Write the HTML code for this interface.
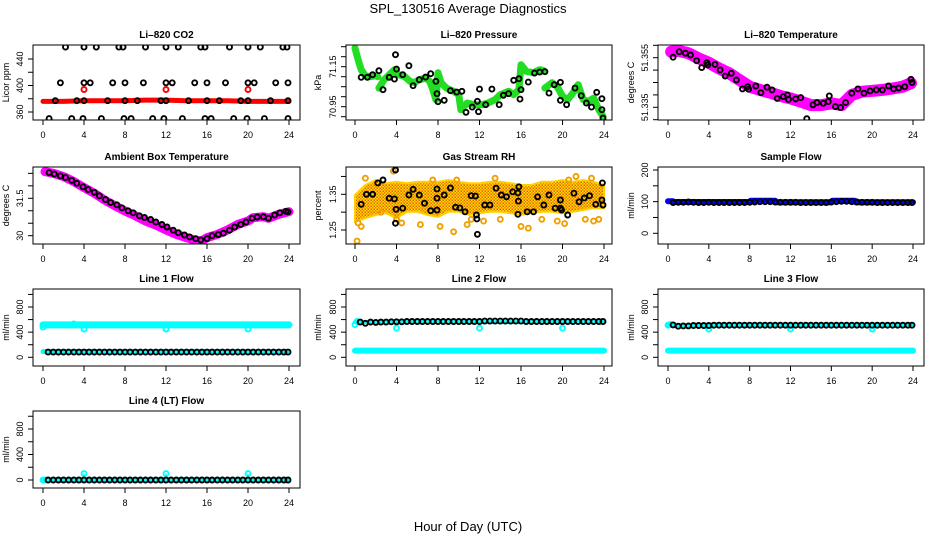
<!DOCTYPE html>
<html><head><meta charset="utf-8"><style>
html,body{margin:0;padding:0;background:#fff}
svg{display:block}
text{font-family:"Liberation Sans",Arial,sans-serif}
</style></head><body>
<svg id="chart" width="936" height="540" viewBox="0 0 936 540" xmlns="http://www.w3.org/2000/svg">
<defs>
<pattern id="rhpat" width="3" height="3" patternUnits="userSpaceOnUse">
<rect width="3" height="3" fill="#ffe000"/><rect x="0" y="0" width="1.5" height="1.5" fill="#f08000"/><rect x="1.5" y="1.5" width="1.5" height="1.5" fill="#e06000"/>
</pattern>
</defs>
<text x="468" y="13" text-anchor="middle" font-size="13">SPL_130516  Average Diagnostics</text>
<text x="468" y="531" text-anchor="middle" font-size="13">Hour of Day (UTC)</text>
</svg>
<script>
// ---- data ----
const xTicks = [0,4,8,12,16,20,24];
const co2Times458 = [2.2,4,5.2,7.4,7.8,10,12,13.2,15.4,15.8,18.2,20,21.2,23.4,23.8];
const co2Times404 = [1.7,4,4.6,6.8,8,9.8,12,12.6,14.8,16,17.8,20,20.6,22.7,23.9];
const co2Times377 = [1.2,3.3,4,6.3,8,9.2,11.5,12,14.2,16,17.2,19.3,20,22.2,23.9];
const co2Times350 = [0.6,2.8,3.9,5.7,7.9,8.6,10.7,11.8,13.6,15.8,16.4,18.6,19.9,21.6,23.9];
const co2Levels = [458,404,377,350];
const co2RedTimes = [0,2,4,6,8,10,12,14,16,18,20,22,24];
const co2RedVals = [376,376,377,377,377,378,378,377,377,377,376,376,376];
const co2RedCircT = [4,12,20];
const co2RedCircV = [394,394,394];

const presBandT = [0,0.3,0.6,1,1.5,2,2.2,null,2.3,2.8,3.3,3.8,4.2,4.8,5.3,5.7,6.2,6.8,7.2,7.5,7.8,8,8.3,8.8,9.5,10,10.2,10.8,11.5,12.2,12.8,13.5,14,14.8,15.3,15.8,16,16.5,17.2,17.8,18.2,null,18.3,19,19.5,20,20.5,21,21.5,22,22.5,23,23.5,23.9];
const presBandV = [71.243,71.185,71.135,71.105,71.10,71.105,71.10,null,71.043,71.085,71.11,71.135,71.11,71.10,71.077,71.07,71.085,71.093,71.077,71.035,70.985,71.12,71.07,71.043,71.027,71.01,70.935,70.968,70.96,70.96,70.968,70.985,71.01,71.027,71.01,71.035,71.16,71.127,71.12,71.135,71.13,null,71.043,71.07,71.05,71.002,70.985,71.018,71.06,70.985,70.977,70.993,70.935,70.902];
const presT = [0.6,1.2,1.7,2.3,2.7,3.3,3.8,3.9,4.0,4.6,5.2,5.6,6.2,6.8,7.3,7.8,7.9,8.0,8.6,9.2,9.8,10.3,10.7,11.3,11.8,11.9,12.0,12.6,13.2,13.9,14.3,14.8,15.3,15.8,15.9,16.0,16.7,17.3,17.8,18.3,18.7,19.2,19.8,19.8,20.4,21.2,21.8,22.3,22.8,23.3,23.8,23.8,23.9];
const presV = [71.097,71.097,71.11,71.13,71.035,71.097,71.088,71.21,71.138,71.11,71.155,71.055,71.085,71.098,71.115,71.077,71.015,70.975,70.982,71.03,71.023,71.027,70.922,70.948,70.977,70.925,71.038,70.96,71.038,70.96,71.007,71.015,71.082,71.09,70.988,71.035,71.073,71.118,71.123,71.125,71.018,71.06,71.072,70.982,70.96,71.043,71.005,70.968,70.948,71.022,70.99,70.935,70.893];

const ltBandT = [0.3,1,2,3,4,5,6,7,8,9,10,11,12,13,14,15,16,17,18,19,20,21,22,23,23.8];
const ltBandV = [51.3574,51.3578,51.3568,51.3547,51.3530,51.3507,51.3487,51.3460,51.3433,51.3420,51.3409,51.3396,51.3386,51.3373,51.3359,51.3359,51.3366,51.3359,51.3400,51.3413,51.3416,51.3420,51.3426,51.3433,51.3447];
const ltT = [0.5,1.1,1.7,2.2,2.8,3.3,3.8,3.9,4.6,5.1,5.6,6.2,6.7,7.3,7.8,7.9,8.6,9.1,9.7,10.2,10.7,11.3,11.7,11.8,12.5,13.0,13.6,14.2,14.6,15.2,15.7,15.8,16.4,16.9,17.4,18.0,18.6,19.2,19.8,20.4,21.0,21.6,22.1,22.6,23.2,23.8,23.9];
const ltV = [51.3552,51.3574,51.3568,51.3561,51.3538,51.3510,51.3530,51.3521,51.3523,51.3501,51.3476,51.3487,51.3460,51.3424,51.3433,51.3423,51.3436,51.3409,51.3431,51.3420,51.3386,51.3393,51.3400,51.3382,51.3384,51.3389,51.3304,51.3360,51.3369,51.3366,51.3373,51.3396,51.3353,51.3349,51.3369,51.3407,51.3424,51.3407,51.3416,51.3420,51.3420,51.3436,51.3424,51.3428,51.3433,51.3463,51.3450];

const ambBandT = [0.2,1,2,3,4,5,6,7,8,9,10,11,12,13,14,15,15.5,16,17,18,19,20,20.5,21.5,22,23,24];
const ambBandV = [32.571,32.504,32.370,32.169,31.928,31.700,31.433,31.205,30.991,30.803,30.589,30.428,30.228,30.053,29.920,29.799,29.799,29.920,30.053,30.228,30.455,30.589,30.723,30.763,30.696,30.857,30.964];
const ambT = [0.6,1.1,1.7,2.2,2.8,3.3,3.9,4.4,5,5.5,6.1,6.6,7.2,7.7,8.3,8.8,9.4,9.9,10.5,11,11.6,12.1,12.7,13.2,13.8,14.3,14.9,15.4,16,16.5,17.1,17.6,18.2,18.7,19.3,19.8,20.4,20.9,21.5,22,22.6,23.1,23.7,23.9];
const ambV = [32.53,32.47,32.40,32.33,32.22,32.10,31.96,31.85,31.74,31.60,31.45,31.33,31.24,31.12,31.00,30.92,30.80,30.73,30.65,30.55,30.45,30.35,30.22,30.12,30.03,29.95,29.88,29.83,29.88,30.00,30.05,30.10,30.22,30.35,30.45,30.55,30.70,30.75,30.76,30.70,30.83,30.92,30.98,30.96];

const rhBandT = [0,1,2,3,4,5,6,7,8,9,10,11,12,13,14,15,16,17,18,19,20,21,22,23,24];
const rhBandHi = [1.348,1.376,1.390,1.381,1.385,1.381,1.385,1.385,1.385,1.390,1.385,1.381,1.381,1.385,1.385,1.381,1.376,1.376,1.385,1.385,1.390,1.385,1.390,1.385,1.376];
const rhBandLo = [1.273,1.283,1.292,1.297,1.283,1.301,1.301,1.292,1.287,1.301,1.301,1.292,1.297,1.301,1.301,1.297,1.292,1.297,1.301,1.301,1.297,1.301,1.306,1.311,1.311];
const rhOutT = [0.2,0.3,0.6,1.0,2.5,3.7,4.0,4.5,6.3,7.5,8.2,9.5,9.8,10.8,11.2,12.4,13.5,14.0,16.0,16.7,18.0,19.5,20.2,20.6,21.3,22.2,22.8,23.0,23.5];
const rhOutV = [1.219,1.27,1.26,1.395,1.30,1.415,1.28,1.27,1.265,1.39,1.26,1.245,1.39,1.265,1.28,1.275,1.395,1.28,1.26,1.255,1.28,1.275,1.268,1.39,1.40,1.28,1.395,1.275,1.28];
const rhT = [0.6,1.1,1.7,2.2,2.7,3.3,3.8,3.9,3.95,3.9,4.6,5.2,5.6,6.2,6.7,7.3,7.9,7.9,7.9,8.6,9.2,9.7,10.1,10.6,11.2,11.6,11.7,11.75,11.8,12.5,13.0,13.6,14.1,14.6,15.2,15.7,15.8,15.75,15.7,16.6,17.2,17.6,18.2,18.7,19.3,19.8,19.8,19.9,20.5,21.1,21.6,22.1,22.6,23.2,23.8,23.9,23.85];
const rhV = [1.322,1.350,1.350,1.382,1.390,1.339,1.337,1.418,1.308,1.269,1.311,1.348,1.364,1.348,1.325,1.304,1.365,1.339,1.306,1.348,1.368,1.314,1.312,1.301,1.346,1.345,1.292,1.281,1.238,1.320,1.320,1.367,1.348,1.343,1.357,1.354,1.371,1.331,1.294,1.301,1.301,1.343,1.320,1.348,1.311,1.334,1.311,1.306,1.292,1.353,1.329,1.340,1.346,1.322,1.334,1.320,1.382];

const hrs = [0.5,1,1.5,2,2.5,3,3.5,4,4.5,5,5.5,6,6.5,7,7.5,8,8.5,9,9.5,10,10.5,11,11.5,12,12.5,13,13.5,14,14.5,15,15.5,16,16.5,17,17.5,18,18.5,19,19.5,20,20.5,21,21.5,22,22.5,23,23.5,23.9];
const sfBlack = [97,98,98,99,98,97,97,98,97,97,97,97,97,97,97,98,99,100,100,100,99,98,98,98,98,97,97,97,97,97,97,99,100,101,101,100,99,98,98,98,97,97,97,97,97,97,97,97];
const sfBandT = [0,0.5,0.6,8,8.1,10.5,10.6,16,16.1,18.3,18.4,24];
const sfBandV = [101,101,99,99,103,103,98,98,103,103,98,98];

const flowBandT = [0,24];
const l1Hi = [515,515];
const l1Lo = [92,92];
const l1Black = [82,82,82,82,82,82,82,82,82,82,82,82,82,82,82,82,82,82,82,82,82,82,82,82,82,82,82,82,82,82,82,82,82,82,82,82,82,82,82,82,82,82,82,82,82,82,82,82];
const l1CircT = [0,3,4,12,20];
const l1CircV = [480,530,450,450,450];
const l2Hi = [560,560];
const l2Lo = [106,106];
const l2Black = [560,540,560,555,560,560,565,565,565,570,570,570,570,570,570,570,570,570,570,570,570,570,570,570,575,575,575,575,575,575,575,575,570,570,570,570,570,570,570,570,570,570,570,570,570,570,570,570];
const l2CircT = [0,0.2,4,12,20];
const l2CircV = [520,570,465,465,465];
const l3Hi = [505,505];
const l3Lo = [106,106];
const l3Black = [515,495,500,500,505,505,505,505,510,510,510,510,510,510,510,510,510,510,510,510,510,510,510,510,510,510,510,510,510,510,510,510,510,510,510,510,510,510,510,510,510,510,510,510,510,510,510,510];
const l3CircT = [0,0.2,4,12,20];
const l3CircV = [510,520,450,450,450];
const l4Black = [0,0,0,0,0,0,0,0,0,0,0,0,0,0,0,0,0,0,0,0,0,0,0,0,0,0,0,0,0,0,0,0,0,0,0,0,0,0,0,0,0,0,0,0,0,0,0,0];
const l4CircT = [0,0.2,4,12,20];
const l4CircV = [0,0,100,100,100];

// ---- drawing ----
const NS = 'http://www.w3.org/2000/svg';
const svg = document.getElementById('chart');
function mk(tag, attrs, parent){
  const e = document.createElementNS(NS, tag);
  for (const k in attrs) e.setAttribute(k, attrs[k]);
  (parent||svg).appendChild(e);
  return e;
}
const cols = [
  {bx0:33,bx1:300,t0:43,t24:289,ylx:9},
  {bx0:346,bx1:612,t0:355,t24:604,ylx:321},
  {bx0:658,bx1:924,t0:668,t24:913,ylx:634}
];
const rows = [{y0:45,y1:120},{y0:167,y1:244},{y0:289,y1:366},{y0:411,y1:488}];

function panel(name, title, ylab, c, r, v1, p1, v2, p2, ticks, labels){
  const C = cols[c], R = rows[r];
  const g = mk('g', {});
  
  
  const xs = t => C.t0 + (C.t24 - C.t0) * t / 24;
  const ys = v => p1 + (v - v1) * (p2 - p1) / (v2 - v1);
  const clip = mk('clipPath', {id: 'clip-' + name}, g);
  mk('rect', {x:C.bx0, y:R.y0, width:C.bx1-C.bx0, height:R.y1-R.y0}, clip);
  const plot = mk('g', {'clip-path': 'url(#clip-' + name + ')'}, g);
  
  
  const box = mk('rect', {x:C.bx0, y:R.y0, width:C.bx1-C.bx0, height:R.y1-R.y0, fill:'none', stroke:'#000', 'stroke-width':1}, g);
  
  
  const tt = mk('text', {x:(C.bx0+C.bx1)/2, y:R.y0-7, 'text-anchor':'middle', 'font-size':10, 'font-weight':'bold'}, g);
  tt.textContent = title;
  
  
  const cy = (R.y0+R.y1)/2;
  const yl = mk('text', {x:C.ylx, y:cy, 'text-anchor':'middle', 'font-size':9, transform:'rotate(-90 '+C.ylx+' '+cy+')'}, g);
  yl.textContent = ylab;
  
  
  const xa = mk('g', {stroke:'#000', 'stroke-width':1}, g);
  
  
  mk('line', {x1:xs(0), x2:xs(24), y1:R.y1, y2:R.y1}, xa);
  xTicks.forEach(t => {
    mk('line', {x1:xs(t), x2:xs(t), y1:R.y1, y2:R.y1+5}, xa);
    const tl = mk('text', {x:xs(t), y:R.y1+18, 'text-anchor':'middle', 'font-size':9, stroke:'none'}, g);
    tl.textContent = t;
    
    
  });
  const ya = mk('g', {stroke:'#000', 'stroke-width':1}, g);
  
  
  mk('line', {x1:C.bx0, x2:C.bx0, y1:ys(ticks[0]), y2:ys(ticks[ticks.length-1])}, ya);
  ticks.forEach(v => mk('line', {x1:C.bx0-5, x2:C.bx0, y1:ys(v), y2:ys(v)}, ya));
  labels.forEach(v => {
    const lx = C.bx0 - 10, ly = ys(v);
    const tl = mk('text', {x:lx, y:ly, 'text-anchor':'middle', 'font-size':9, transform:'rotate(-90 '+lx+' '+ly+')'}, g);
    tl.textContent = v;
    
    
  });
  return {plot, xs, ys};
}
function band(P, T, V, color, w, name){
  let d = '', pen = false;
  T.forEach((t, i) => {
    if (t === null || V[i] === null) { pen = false; return; }
    d += (pen ? 'L' : 'M') + P.xs(t).toFixed(1) + ' ' + P.ys(V[i]).toFixed(1);
    pen = true;
  });
  const p = mk('path', {d, fill:'none', stroke:color, 'stroke-width':w, 'stroke-linejoin':'round', 'stroke-linecap':'round'}, P.plot);
  
  
}
function area(P, T, Hi, Lo, fill, name){
  let d = '';
  T.forEach((t, i) => { d += (i ? 'L' : 'M') + P.xs(t).toFixed(1) + ' ' + P.ys(Hi[i]).toFixed(1); });
  for (let i = T.length-1; i >= 0; i--) d += 'L' + P.xs(T[i]).toFixed(1) + ' ' + P.ys(Lo[i]).toFixed(1);
  const p = mk('path', {d: d + 'Z', fill, stroke:'#ffd000', 'stroke-width':2}, P.plot);
  
  
}
function pts(P, T, V, color, name, r){
  T.forEach((t, i) => {
    const c = mk('circle', {cx:P.xs(t).toFixed(1), cy:P.ys(V[i]).toFixed(1), r:r||2.5, fill:'none', stroke:color, 'stroke-width':1.9}, P.plot);
    
    
  });
}

let P = panel('co2-panel','Li\u2013820 CO2','Licor ppm',0,0,360,112,440,59,[360,380,400,420,440],[360,400,440]);
band(P, co2RedTimes, co2RedVals, '#f00', 5, 'co2-red-series');
pts(P, co2RedCircT, co2RedCircV, '#f00', 'co2-red-point');
[co2Times458,co2Times404,co2Times377,co2Times350].forEach((arr, k) => pts(P, arr, arr.map(() => co2Levels[k]), '#000', 'co2-black-point'));

P = panel('pressure-panel','Li\u2013820 Pressure','kPa',1,0,70.95,106.7,71.15,66.7,[70.9,70.95,71,71.05,71.1,71.15,71.2,71.25],[70.95,71.15]);
band(P, presBandT, presBandV, '#22dd22', 7, 'pressure-green-series');
pts(P, presT, presV, '#000', 'pressure-black-point');

P = panel('li-temp-panel','Li\u2013820 Temperature','degrees C',2,0,51.335,107.3,51.355,57.7,[51.33,51.335,51.34,51.345,51.35,51.355,51.36],[51.335,51.355]);
band(P, ltBandT, ltBandV, '#ff00ff', 12, 'li-temp-magenta-series');
pts(P, ltT, ltV, '#000', 'li-temp-black-point');

P = panel('ambient-temp-panel','Ambient Box Temperature','degrees C',0,1,30,235.7,31.5,198.3,[30,30.5,31,31.5,32,32.5],['30.0','31.5'].map(Number));
band(P, ambBandT, ambBandV, '#ff00ff', 9, 'ambient-magenta-series');
pts(P, ambT, ambV, '#000', 'ambient-black-point');

P = panel('rh-panel','Gas Stream RH','percent',1,1,1.25,230,1.35,194.3,[1.25,1.3,1.35,1.4],[1.25,1.35]);
area(P, rhBandT, rhBandHi, rhBandLo, 'url(#rhpat)', 'rh-orange-cloud');
pts(P, rhOutT, rhOutV, '#f0a000', 'rh-orange-point', 2.5);
pts(P, rhT, rhV, '#000', 'rh-black-point');

P = panel('sample-flow-panel','Sample Flow','ml/min',2,1,0,233.3,200,170,[0,50,100,150,200],[0,100,200]);
band(P, sfBandT, sfBandV, '#0000ff', 6, 'sample-flow-blue-series');
pts(P, hrs, sfBlack, '#000', 'sample-flow-black-point');

const fT = [0,200,400,600,800,1000];
P = panel('line1-flow-panel','Line 1 Flow','ml/min',0,2,0,357.3,800,307,fT,[0,400,800]);
band(P, flowBandT, l1Hi, '#00ffff', 7, 'line1-cyan-upper');
band(P, flowBandT, l1Lo, '#00ffff', 5, 'line1-cyan-lower');
pts(P, l1CircT, l1CircV, '#00ffff', 'line1-cyan-point', 2.5);
pts(P, hrs, l1Black, '#000', 'line1-black-point');

P = panel('line2-flow-panel','Line 2 Flow','ml/min',1,2,0,357.3,800,307,fT,[0,400,800]);
band(P, flowBandT, l2Hi, '#00ffff', 4, 'line2-cyan-upper');
band(P, flowBandT, l2Lo, '#00ffff', 6, 'line2-cyan-lower');
pts(P, l2CircT, l2CircV, '#00ffff', 'line2-cyan-point', 2.5);
pts(P, hrs, l2Black, '#000', 'line2-black-point');

P = panel('line3-flow-panel','Line 3 Flow','ml/min',2,2,0,357.3,800,307,fT,[0,400,800]);
band(P, flowBandT, l3Hi, '#00ffff', 4, 'line3-cyan-upper');
band(P, flowBandT, l3Lo, '#00ffff', 6, 'line3-cyan-lower');
pts(P, l3CircT, l3CircV, '#00ffff', 'line3-cyan-point', 2.5);
pts(P, hrs, l3Black, '#000', 'line3-black-point');

P = panel('line4-flow-panel','Line 4 (LT) Flow','ml/min',0,3,0,480,800,429,fT,[0,400,800]);
band(P, flowBandT, [0,0], '#00ffff', 3, 'line4-cyan-series');
l4CircT.forEach((t,i)=>{ const s = mk('line',{x1:P.xs(t),x2:P.xs(t),y1:P.ys(0),y2:P.ys(l4CircV[i]),stroke:'#00ffff','stroke-width':1.5},P.plot);

 });
pts(P, l4CircT, l4CircV, '#00ffff', 'line4-cyan-point', 2.5);
pts(P, hrs, l4Black, '#000', 'line4-black-point');
</script>
</body></html>
